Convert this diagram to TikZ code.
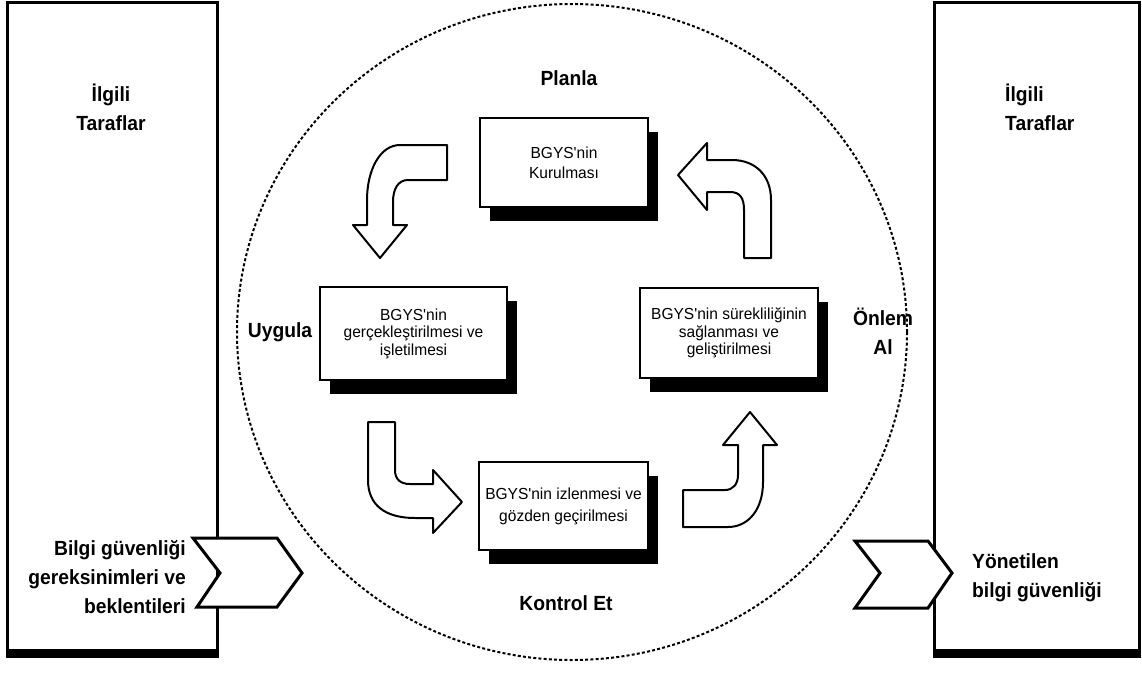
\documentclass[tikz,border=0pt]{standalone}
\usepackage{fontspec}
\setmainfont{Liberation Sans}
\newfontfamily\labfont[FakeStretch=0.94]{Liberation Sans}
\newfontfamily\boxfont[FakeStretch=0.97]{Liberation Sans}
\usetikzlibrary{shadows}

\begin{document}
\begin{tikzpicture}[x=1pt,y=-1pt,
  lab/.style={font=\labfont\bfseries\fontsize{20.5}{29}\selectfont, inner sep=0pt},
  stagebox/.style={draw, line width=2pt, fill=white, align=center,
    font=\boxfont\fontsize{16}{17.5}\selectfont,
    drop shadow={shadow xshift=10pt, shadow yshift=-14pt, fill=black, opacity=1}},
  partybox/.style={draw, line width=3pt, fill=white},
  blockarrow/.style={draw, line width=2pt, fill=white, line join=round},
  chevron/.style={draw, line width=3pt, fill=white, line join=miter}]

\useasboundingbox (0,0) rectangle (1142,673);

% dotted cycle boundary
\draw[line width=2pt, dash pattern=on 3pt off 2.2pt] (572,332) ellipse [x radius=335pt, y radius=328pt];

% interested parties, left and right
\node[partybox, minimum width=210pt, minimum height=648pt] (lp) at (112.5,326) {};
\fill ([yshift=1.5pt]lp.south west) rectangle ([yshift=-6pt]lp.south east);
\node[partybox, minimum width=205pt, minimum height=648pt] (rp) at (1036.5,326) {};
\fill ([yshift=1.5pt]rp.south west) rectangle ([yshift=-6pt]rp.south east);

\node[lab, align=center] (lpt) at (111,107) {İlgili\\Taraflar};
\node[lab, align=left, anchor=west] (rpt) at (1005,107) {İlgili\\Taraflar};

% input and output chevrons
\draw[chevron] (193,538) -- (277,538) -- (302,573) -- (277,607) -- (197,607) -- (220,573) -- cycle;
\draw[chevron] (855,541) -- (928,541) -- (952,573) -- (928,608) -- (855,608) -- (880,573) -- cycle;

\node[lab, align=right, anchor=east] (inp) at (186,577) {Bilgi güvenliği\\gereksinimleri ve\\beklentileri};
\node[lab, align=left, anchor=west] (outp) at (972,578) {Yönetilen\\bilgi güvenliği};

% phase labels
\node[lab] (planla) at (569,78) {Planla};
\node[lab] (uygula) at (280,332) {Uygula};
\node[lab] (kontrol) at (566,603) {Kontrol Et};
\node[lab, align=center] (onlem) at (883,331) {Önlem\\Al};

% stage boxes
\node[stagebox, minimum width=168pt, minimum height=89pt,
  font=\boxfont\fontsize{16}{20}\selectfont] (plan) at (564,162.5) {BGYS'nin\\Kurulması};
\node[stagebox, minimum width=187pt, minimum height=93pt] (do) at (413.5,333.5)
  {BGYS'nin\\gerçekleştirilmesi ve\\işletilmesi};
\node[stagebox, minimum width=178pt, minimum height=90pt] (act) at (729,333)
  {BGYS'nin sürekliliğinin\\sağlanması ve\\geliştirilmesi};
\node[stagebox, minimum width=169pt, minimum height=88pt,
  font=\boxfont\fontsize{16}{22}\selectfont] (check) at (563.5,506)
  {BGYS'nin izlenmesi ve\\gözden geçirilmesi};

% bent block arrows of the cycle
\draw[blockarrow] (447,145) -- (400,145) .. controls (380,145) and (367,170) .. (367,200)
  -- (367,225) -- (353,225) -- (380,258) -- (407,225) -- (393,225) -- (393,202)
  .. controls (393,189) and (398,180) .. (408,180) -- (447,180) -- cycle;
\draw[blockarrow] (368,422) -- (395,422) -- (395,470) .. controls (395,479) and (400,484) .. (410,484)
  -- (433,484) -- (433,470) -- (462,502) -- (433,533) -- (433,518) -- (415,518)
  .. controls (385,518) and (368,505) .. (368,480) -- cycle;
\draw[blockarrow] (683,490) -- (725,490) .. controls (733,490) and (738,484) .. (738,475)
  -- (738,445) -- (723,445) -- (750,412) -- (777,445) -- (763,445) -- (763,482)
  .. controls (763,510) and (748,527) .. (728,527) -- (683,527) -- cycle;
\draw[blockarrow] (744,258) -- (771,258) -- (771,200) .. controls (771,175) and (755,160) .. (732,160)
  -- (707,160) -- (707,143) -- (678,175) -- (707,210) -- (707,192) -- (730,192)
  .. controls (740,192) and (744,198) .. (744,210) -- cycle;

\end{tikzpicture}
\end{document}
